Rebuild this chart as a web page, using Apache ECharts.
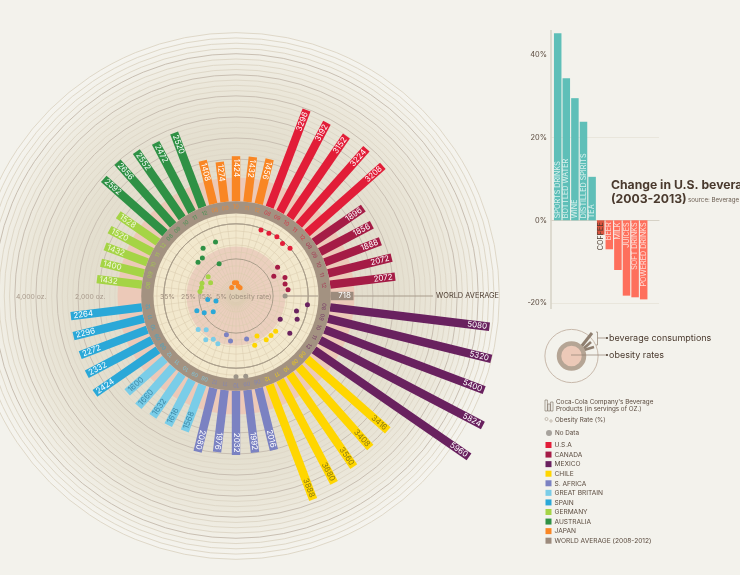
<!DOCTYPE html>
<html><head><meta charset="utf-8">
<style>html,body{margin:0;padding:0;background:#f3f2ec}#c{width:740px;height:575px}</style>
<script src="https://cdn.jsdelivr.net/npm/echarts@6/dist/echarts.min.js"></script>
</head><body><div id="c"></div>
<script>
// ---- data ----
const countryNames = ['MEXICO','CHILE','S. AFRICA','GREAT BRITAIN','SPAIN','GERMANY','AUSTRALIA','JAPAN','U.S.A','CANADA'];
const mexicoOz   = [5080,5320,5400,5824,5960];
const chileOz    = [3416,3408,3560,3680,3888];
const safricaOz  = [2016,1992,2032,1976,2080];
const britainOz  = [1568,1616,1632,1660,1600];
const spainOz    = [2424,2332,2272,2296,2264];
const germanyOz  = [1432,1400,1432,1520,1528];
const australiaOz= [2592,2656,2552,2472,2520];
const japanOz    = [1408,1274,1424,1432,1456];
const usaOz      = [3296,3192,3152,3224,3208];
const canadaOz   = [1896,1856,1888,2072,2072];
const worldOz    = 718;
const mexicoOb   = [34.9,30.2,31.7,24.2,31.7];
const chileOb    = [25.7,25.6,25.8,21.9,25.6];
const safricaOb  = [21.5,null,null,22.0,19.4];
const britainOb  = [24.8,23.7,25.8,21.8,24.5];
const spainOb    = [13.4,17.4,20.3,10.0,13.8];
const germanyOb  = [17.6,17.2,17.6,13.9,16.4];
const australiaOb= [24.6,24.6,28.1,17.6,28.0];
const japanOb    = [4.6,6.5,6.4,4.8,4.5];
const japanObSlots = [35.1,38,39.4,40.9,42.8];
const usaOb      = [34.2,34.3,34.9,34.0,35.0];
const canadaOb   = [24.5,20.7,25.4,24.5,25.4];
const worldOb    = 23.8;
const yearLabels = ['08','09','10','11','12'];
const beverageNames  = ['SPORTS DRINKS','BOTTLED WATER','WINE','DISTILLED SPIRITS','TEA','COFFEE','BEER','MILK','JUICES','SOFT DRINKS','POWERED DRINKS'];
const beverageChange = [45.2,34.3,29.5,23.8,10.5,-3.5,-7,-12,-18.2,-18.6,-19.1];
const legendOrder = ['U.S.A','CANADA','MEXICO','CHILE','S. AFRICA','GREAT BRITAIN','SPAIN','GERMANY','AUSTRALIA','JAPAN','WORLD AVERAGE (2008-2012)'];

// ---- styles ----
const countryColors = {'U.S.A':'#e21d38','CANADA':'#a51c46','MEXICO':'#69215f','CHILE':'#ffd600','S. AFRICA':'#7b82c2','GREAT BRITAIN':'#7acde8','SPAIN':'#2aa8d8','GERMANY':'#a5d445','AUSTRALIA':'#2f9145','JAPAN':'#f98624','WORLD AVERAGE (2008-2012)':'#9c8b7d'};
const labelColors = {'CHILE':'#8c7a10','GREAT BRITAIN':'#3f8aa8','GERMANY':'#f4f8e0'};
const FONT = 'Inter, "Open Sans", sans-serif';
const SLOTS = 52, BROWN='#a39281', DARK='#4a3a2e';

const ozByCountry = [mexicoOz,chileOz,safricaOz,britainOz,spainOz,germanyOz,australiaOz,japanOz,usaOz,canadaOz];
const obByCountry = [mexicoOb,chileOb,safricaOb,britainOb,spainOb,germanyOb,australiaOb,japanOb,usaOb,canadaOb];
const startSlot   = [1,6,11,16,21,27,32,37,42,47];

const barRows=[], yearRows=[], dotSeries=[], noDataRows=[];
countryNames.forEach((n,i)=>{
  const dots=[];
  ozByCountry[i].forEach((v,k)=>{
    const s=startSlot[i]+k;
    barRows.push([v,s,n,String(v)]);
    yearRows.push([0,s,n,yearLabels[k]]);
    const o=obByCountry[i][k];
    if(o==null) noDataRows.push([39.2,s]); else dots.push([o,n==='JAPAN'?japanObSlots[k]:s]);
  });
  dotSeries.push({type:'scatter',coordinateSystem:'polar',polarIndex:1,symbolSize:5,z:12,silent:true,
    itemStyle:{color:countryColors[n],opacity:1},data:dots});
});
barRows.push([worldOz,0,'WORLD AVERAGE (2008-2012)','718']);
dotSeries.push({type:'scatter',coordinateSystem:'polar',polarIndex:1,symbolSize:5,z:12,silent:true,itemStyle:{color:'#9c9488',opacity:1},data:[[worldOb,0]].concat(noDataRows)});

const ringStep=500/3;
const ringOz=[]; for(let k=1;k<=32;k++) ringOz.push(k*ringStep);
const gridPct=[]; for(let k=-4;k<=6;k++){ gridPct.push(18+k*3.4); }
gridPct.push(35);
const slotList=[]; for(let s=0;s<SLOTS;s++) slotList.push(s);

function circleAt(api,val,style){
  const c=api.coord([val,0]), o=api.coord([val,SLOTS/2]);
  const cx=(c[0]+o[0])/2, cy=(c[1]+o[1])/2, r=Math.abs(c[0]-o[0])/2;
  return {type:'circle',shape:{cx,cy,r},style};
}

const series=[
 // backdrop
 {type:'custom',coordinateSystem:'polar',polarIndex:0,z:1,silent:true,data:[[5333,0]],renderItem(p,api){
    return circleAt(api,5333,{fill:{type:'radial',x:.5,y:.5,r:.5,colorStops:[
      {offset:0,color:'#e0d9c6'},{offset:.6,color:'#e4dfcf'},{offset:.8,color:'#ebe7da'},{offset:.93,color:'#f2f0e8'},{offset:1,color:'#f5f4ef'}]}});
 }},
 // oz rings
 {type:'custom',coordinateSystem:'polar',polarIndex:0,z:2,silent:true,data:ringOz.map((v,i)=>[v,i+1]),renderItem(p,api){
    const k=api.value(1), major=k%4===0&&k<32;
    return circleAt(api,api.value(0),{fill:'none',stroke:major?'#c9bfb2':'#dfd8c8',lineWidth:1});
 }},
 // pink disc
 {type:'custom',coordinateSystem:'polar',polarIndex:0,z:3,silent:true,data:[[750,0]],renderItem(p,api){
    return circleAt(api,750,{fill:'#ecc9b8'});
 }},
 // world-average line
 {type:'custom',coordinateSystem:'polar',polarIndex:0,z:3,silent:true,data:[[718,0]],renderItem(p,api){
    const a=api.coord([718,0]), b=api.coord([5310,0]);
    return {type:'group',children:[
      {type:'line',shape:{x1:a[0],y1:a[1],x2:433,y2:b[1]},style:{stroke:'#a89c8c',lineWidth:1}},
      {type:'text',x:436,y:b[1],style:{text:'WORLD AVERAGE',fill:DARK,font:'7.4px '+FONT,verticalAlign:'middle'}}
    ]};
 }},
 // bars
 {type:'custom',coordinateSystem:'polar',polarIndex:0,z:5,silent:true,data:barRows,dimensions:['oz','slot','country','label'],
  renderItem(p,api){
    const v=api.value(0), s=api.value(1), row=barRows[p.dataIndex], n=row[2];
    const a=api.coord([0,s]), b=api.coord([v,s]);
    let dx=b[0]-a[0], dy=b[1]-a[1]; const L=Math.hypot(dx,dy); dx/=L; dy/=L;
    const w=4.2, nx=-dy*w, ny=dx*w;
    const flip=s>=16&&s<=41;
    const tx=b[0]-dx*2.5, ty=b[1]-dy*2.5;
    const rot=flip?-Math.atan2(-dy,-dx):-Math.atan2(dy,dx);
    return {type:'group',children:[
      {type:'polygon',shape:{points:[[a[0]+nx,a[1]+ny],[b[0]+nx,b[1]+ny],[b[0]-nx,b[1]-ny],[a[0]-nx,a[1]-ny]]},style:{fill:countryColors[n]}},
      {type:'text',x:tx,y:ty,rotation:rot,style:{text:row[3],fill:labelColors[n]||'#fff',font:'8px '+FONT,align:flip?'left':'right',verticalAlign:'middle'}}
    ]};
 }},
 // brown ring band + cream disc
 {type:'custom',coordinateSystem:'polar',polarIndex:0,z:6,silent:true,data:[[0,0]],renderItem(p,api){
    return circleAt(api,0,{fill:BROWN});
 }},
 // year ticks on ring
 {type:'custom',coordinateSystem:'polar',polarIndex:1,z:7,silent:true,data:yearRows,renderItem(p,api){
    const row=yearRows[p.dataIndex], s=row[1], q=api.coord([42.8,s]);
    const ang=s/SLOTS*2*Math.PI+Math.PI/2;
    return {type:'text',x:q[0],y:q[1],rotation:-ang,style:{text:row[3],fill:countryColors[row[2]],opacity:.75,font:'5.6px '+FONT,align:'center',verticalAlign:'middle'}};
 }},
 {type:'custom',coordinateSystem:'polar',polarIndex:1,z:7,silent:true,data:[[40,0]],renderItem(p,api){
    return circleAt(api,40,{fill:'#f2e8cd'});
 }},
 // obesity pink core
 {type:'custom',coordinateSystem:'polar',polarIndex:1,z:8,silent:true,data:[[24,0]],renderItem(p,api){
    return circleAt(api,24,{fill:'#ebcfbe'});
 }},
 {type:'custom',coordinateSystem:'polar',polarIndex:1,z:9,silent:true,data:[[8,0]],renderItem(p,api){
    return circleAt(api,8,{fill:{type:'radial',x:.5,y:.5,r:.5,colorStops:[{offset:0,color:'#dccfb3'},{offset:1,color:'#dccfb300'}]}});
 }},
 // obesity grid: spokes
 {type:'custom',coordinateSystem:'polar',polarIndex:1,z:10,silent:true,data:slotList.map(s=>[40,s]),renderItem(p,api){
    const a=api.coord([3,api.value(1)]), b=api.coord([40,api.value(1)]);
    return {type:'line',shape:{x1:a[0],y1:a[1],x2:b[0],y2:b[1]},style:{stroke:'#d8c9ac',lineWidth:.6,opacity:.8}};
 }},
 // obesity grid: rings
 {type:'custom',coordinateSystem:'polar',polarIndex:1,z:10,silent:true,data:gridPct.map(v=>[v,0]),renderItem(p,api){
    const v=api.value(0), major=Math.abs(v-18)<.01||Math.abs(v-35)<.01;
    return circleAt(api,v,{fill:'none',stroke:major?'#ab9f8c':'#dccdaf',lineWidth:major?1:.6});
 }},
 // WA guide in disc
 {type:'custom',coordinateSystem:'polar',polarIndex:1,z:11,silent:true,data:[[worldOb,0]],renderItem(p,api){
    const a=api.coord([worldOb,0]), b=api.coord([40,0]);
    return {type:'line',shape:{x1:a[0],y1:a[1],x2:b[0],y2:b[1]},style:{stroke:'#a89c8c',lineWidth:1}};
 }},
 ...dotSeries,
 // beverage bars
 {type:'bar',xAxisIndex:0,yAxisIndex:0,barWidth:7.5,z:3,silent:true,
  data:beverageChange.map((v,i)=>({
    value:[i+0.78,v],
    itemStyle:{color:i===5?'#d9543f':(v>=0?'#5fbfb8':'#fe6f5c')},
    label:{show:true,formatter:beverageNames[i],rotate:90,fontSize:7.2,fontFamily:FONT,distance:2,
      position:v>=0?'insideBottom':'insideTop',align:v>=0?'left':'right',verticalAlign:'middle',
      color:i===5?DARK:(v>=0?'#d9f1ee':'#ffdcd4')}
  }))}
];

// ---- decorative text & legend ----
const G=[];
const T=(x,y,text,size,color,extra)=>G.push({type:'text',x,y,z:30,silent:true,style:Object.assign({text,fill:color,font:size+'px '+FONT,verticalAlign:'middle'},extra||{})});
T(16,297,'4,000 oz.',6.8,'#a89a8c'); T(75,297,'2,000 oz.',6.8,'#a89a8c');
T(160,297,'35%',6.8,'#a0907f'); T(181,297,'25%',6.8,'#a0907f'); T(199,297,'15%',6.8,'#a0907f');
T(216,297,'5% (obesity rate)',6.8,'#a0907f');
// y axis line of bar chart
G.push({type:'line',z:5,silent:true,shape:{x1:551,y1:30,x2:551,y2:309},style:{stroke:'#d6d2c6',lineWidth:1.5}});
T(611,185,'Change in U.S. beverage consumption',12.2,DARK,{font:'700 12.2px '+FONT});
T(611,199,'(2003-2013)',12.2,DARK,{font:'700 12.2px '+FONT});
T(688,200,'source: Beverage Digest',6.2,'#6a5c50');
// mini diagram
const mc=[571.5,356];
G.push({type:'line',z:5,silent:true,shape:{x1:581,y1:347,x2:592,y2:333},style:{stroke:'#8f7f70',lineWidth:3}});
G.push({type:'line',z:5,silent:true,shape:{x1:583,y1:349,x2:591,y2:342},style:{stroke:'#8f7f70',lineWidth:2.6}});
G.push({type:'line',z:5,silent:true,shape:{x1:584,y1:350,x2:594,y2:347},style:{stroke:'#8f7f70',lineWidth:2.6}});
G.push({type:'circle',z:4,silent:true,shape:{cx:mc[0],cy:mc[1],r:26.6},style:{fill:'none',stroke:'#c8b9ab',lineWidth:1}});
G.push({type:'circle',z:6,silent:true,shape:{cx:mc[0],cy:mc[1],r:12.5},style:{fill:'#ecc9b8',stroke:'#b5a595',lineWidth:4.5}});
G.push({type:'line',z:7,silent:true,shape:{x1:571,y1:355,x2:607,y2:355},style:{stroke:'#8f7f70',lineWidth:.7}});
G.push({type:'polyline',z:7,silent:true,shape:{points:[[596,332],[597.5,332],[597.5,345],[596,345]]},style:{fill:'none',stroke:'#8f7f70',lineWidth:.7}});
G.push({type:'line',z:7,silent:true,shape:{x1:597.5,y1:338,x2:607,y2:338},style:{stroke:'#8f7f70',lineWidth:.7}});
G.push({type:'circle',z:7,silent:true,shape:{cx:607,cy:338,r:1},style:{fill:DARK}});
G.push({type:'circle',z:7,silent:true,shape:{cx:607,cy:355,r:1},style:{fill:DARK}});
T(609,338,'beverage consumptions',9,DARK);
T(609,355,'obesity rates',9,DARK);
// legend heads
[0,3,6].forEach((o,i)=>G.push({type:'rect',z:7,silent:true,shape:{x:545+i*2.8,y:[400,404,402][i],width:2.4,height:[11,7,9][i]},style:{fill:'none',stroke:'#7a6c60',lineWidth:.6}}));
T(556,402,"Coca-Cola Company's Beverage",6.3,'#5a4a3e');
T(556,409,'Products (in servings of OZ.)',6.3,'#5a4a3e');
G.push({type:'circle',z:7,silent:true,shape:{cx:546.5,cy:419,r:1.5},style:{fill:'none',stroke:'#a89a8c',lineWidth:.6}});
G.push({type:'circle',z:7,silent:true,shape:{cx:551,cy:421,r:1.2},style:{fill:'none',stroke:'#a89a8c',lineWidth:.6}});
T(555,420,'Obesity Rate (%)',6.3,'#5a4a3e');
G.push({type:'circle',z:7,silent:true,shape:{cx:549,cy:433,r:3},style:{fill:'#a7a39d'}});
T(555,433.3,'No Data',6.3,'#5a4a3e');
legendOrder.forEach((n,i)=>{
  const y=445+i*9.57;
  G.push({type:'rect',z:7,silent:true,shape:{x:545.5,y:y-3,width:6,height:6},style:{fill:countryColors[n]}});
  T(554.5,y+.3,n,6.6,'#5a4a3e');
});

const chart=echarts.init(document.getElementById('c'),null,{renderer:'canvas'});
const C=[236,296];
chart.setOption({
  animation:false,backgroundColor:'#f3f2ec',
  polar:[{center:C,radius:[0,9000*0.0316]},{center:C,radius:[0,82.5]}],
  radiusAxis:[
    {polarIndex:0,type:'value',min:-3000,max:6000,show:false,splitLine:{show:false}},
    {polarIndex:1,type:'value',min:0,max:40,show:false,splitLine:{show:false}}],
  angleAxis:[
    {polarIndex:0,type:'value',min:0,max:SLOTS,startAngle:0,show:false,splitLine:{show:false}},
    {polarIndex:1,type:'value',min:0,max:SLOTS,startAngle:0,show:false,splitLine:{show:false}}],
  grid:[{left:551,width:108,top:220.3-60*4.14,height:100*4.14,containLabel:false,outerBoundsMode:'none'}],
  xAxis:[{type:'value',gridIndex:0,min:0,max:12.56,axisLabel:{show:false},axisTick:{show:false},splitLine:{show:false},
    axisLine:{show:true,onZero:true,lineStyle:{color:'#d6d2c6',width:1.2}}}],
  yAxis:[{type:'value',gridIndex:0,min:-40,max:60,interval:20,axisLine:{show:false},axisTick:{show:false},
    axisLabel:{fontSize:7.4,fontFamily:FONT,color:'#5a4a3e',margin:4,formatter:v=>(v===-40||v===60)?'':v+'%'},
    splitLine:{show:true,lineStyle:{color:['transparent','#e9e6dc','transparent','#e9e6dc','transparent','transparent'],width:1}}}],
  series,
  graphic:{elements:G}
});
</script></body></html>
